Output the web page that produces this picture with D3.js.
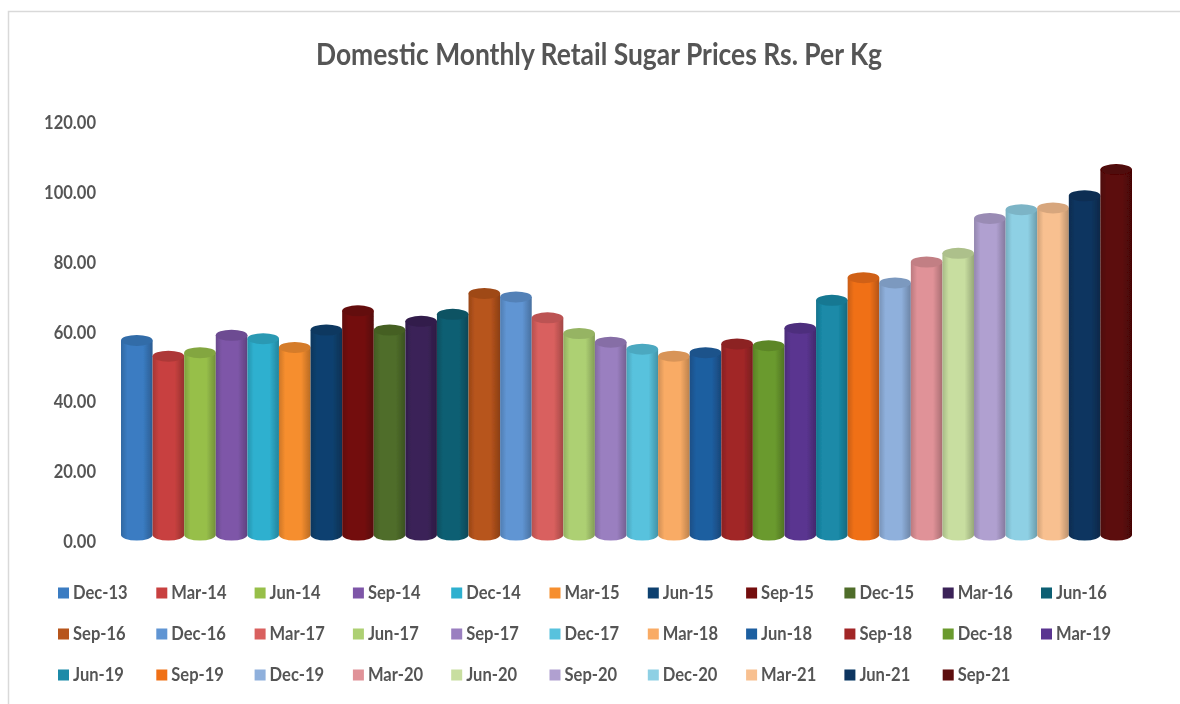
<!DOCTYPE html>
<html>
<head>
<meta charset="utf-8">
<script src="https://cdn.jsdelivr.net/npm/d3@7"></script>
<style>
  html, body { margin: 0; background: #fff; }
  svg { display: block; }
  text { font-family: Lato, "Open Sans", sans-serif; fill: #555; }
</style>
</head>
<body>
<svg id="chart" width="1180" height="704"></svg>
<script>
const titleText = "Domestic Monthly Retail Sugar Prices Rs. Per Kg"
const months = ["Dec-13","Mar-14","Jun-14","Sep-14","Dec-14","Mar-15","Jun-15","Sep-15","Dec-15","Mar-16","Jun-16",
  "Sep-16","Dec-16","Mar-17","Jun-17","Sep-17","Dec-17","Mar-18","Jun-18","Sep-18","Dec-18","Mar-19",
  "Jun-19","Sep-19","Dec-19","Mar-20","Jun-20","Sep-20","Dec-20","Mar-21","Jun-21","Sep-21"]
const prices = [57.5,53,54,59,58,55.5,60.5,66,60.5,63,65,
  71,70,64,59.5,57,55,53,54,56.5,56,61,
  69,75.5,74,80,82.5,92.5,95,95.5,99,106.5]
const colors = ["#3a7cc2","#c8413f","#97bf4a","#7e57a8","#2fb0cf","#f68e2f","#11416f","#730c0c","#4f6d2a","#3b2358","#0a5f73",
  "#b7541c","#6095d3","#d9605e","#add073","#9a7fc0","#58c2dd","#f9ab65","#1f5ea0","#a12628","#6a9a2e","#5a3590",
  "#1a8aa8","#f07018","#8fb0dc","#e09298","#c8dea0","#b0a0d0","#8ed0e4","#f8c090","#0c3560","#5c0808"]
const yTicks = [0,20,40,60,80,100,120]

var svg = d3.select("#chart")
const capRy = 5.5
const floorLift = 6 // the cylinders stand a little above the zero label
const textSqueeze = 0.92 // reference font is narrower than Lato

var x = d3.scaleBand().domain(months).range([121, 1132]).padding(0)
var y = d3.scaleLinear().domain([0, 120]).range([541, 122.5])

// slight blur, the reference is a soft screenshot
var defs = svg.append("defs")
defs.append("filter").attr("id", "soft")
  .append("feGaussianBlur").attr("stdDeviation", 0.5)

// one shading gradient per bar
months.forEach((m, i) => {
  const base = d3.color(colors[i])
  const grad = defs.append("linearGradient").attr("id", `cyl${i}`)
    .attr("x1", 0).attr("x2", 1).attr("y1", 0).attr("y2", 0)
  grad.append("stop").attr("offset", 0).attr("stop-color", base.darker(0.5))
  grad.append("stop").attr("offset", 0.2).attr("stop-color", base)
  grad.append("stop").attr("offset", 0.7).attr("stop-color", base)
  grad.append("stop").attr("offset", 1).attr("stop-color", base.darker(0.8))
})

// frame of the screenshot
svg.append("path")
  .attr("d", "M8.5,704V11.5H1180")
  .attr("fill", "none").attr("stroke", "#d9d9d9").attr("stroke-width", 1.5)

var main = svg.append("g").attr("filter", "url(#soft)")

main.append("text")
  .attr("x", 599).attr("y", 65)
  .attr("text-anchor", "middle")
  .attr("font-size", 31).attr("font-weight", 700)
  .attr("textLength", 566).attr("lengthAdjust", "spacingAndGlyphs")
  .text(titleText)

// y axis, labels only
var yAxis = d3.axisLeft(y).tickValues(yTicks).tickFormat(d => d.toFixed(2)).tickSize(0).tickPadding(0)
var yAxisG = main.append("g").attr("transform", "translate(96,0)").call(yAxis)
yAxisG.select(".domain").remove()
yAxisG.selectAll("text")
  .attr("font-size", 18).attr("font-weight", 700).attr("font-family", "Lato")
  .attr("fill", "#555").attr("dy", "0.36em")
  .attr("transform", `scale(${textSqueeze},1)`)

// cylinders
var bars = main.append("g").selectAll("g").data(months).join("g")
bars.append("path")
  .attr("fill", (d, i) => `url(#cyl${i})`)
  .attr("d", (d, i) => {
    const l = x(d), w = x.bandwidth(), r = w / 2
    const floor = y(0) - floorLift
    return `M${l},${y(prices[i])}V${floor}A${r},${capRy} 0 0 0 ${l + w},${floor}V${y(prices[i])}Z`
  })
bars.append("ellipse")
  .attr("cx", d => x(d) + x.bandwidth() / 2)
  .attr("cy", (d, i) => y(prices[i]))
  .attr("rx", x.bandwidth() / 2)
  .attr("ry", capRy)
  .attr("fill", (d, i) => d3.color(colors[i]).darker(0.4))

// legend, 11 entries per row
const legendPerRow = 11
var legendX = d3.scaleLinear().domain([0, 1]).range([58, 156.3])
var legendY = d3.scaleLinear().domain([0, 1]).range([593, 634])
var legend = main.append("g").selectAll("g").data(months).join("g")
  .attr("transform", (d, i) => `translate(${legendX(i % legendPerRow)},${legendY(Math.floor(i / legendPerRow))})`)
legend.append("rect")
  .attr("x", 0).attr("y", -5.5).attr("width", 11).attr("height", 11)
  .attr("fill", (d, i) => colors[i])
legend.append("text")
  .attr("dy", "0.36em")
  .attr("transform", `translate(15,0) scale(${textSqueeze},1)`)
  .attr("font-size", 18).attr("font-weight", 700)
  .text(d => d)
</script>
</body>
</html>
